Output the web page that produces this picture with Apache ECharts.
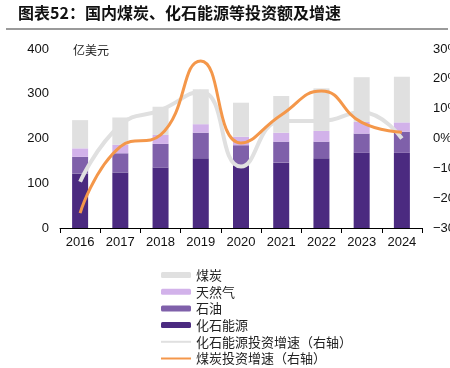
<!DOCTYPE html>
<html><head><meta charset="utf-8">
<script src="https://cdn.jsdelivr.net/npm/echarts@6/dist/echarts.min.js"></script>
<style>html,body{margin:0;padding:0;background:#fff}#c{width:450px;height:368px}</style>
</head><body><div id="c"></div>
<script>
var years = ['2016','2017','2018','2019','2020','2021','2022','2023','2024'];
var fossil = [122,124,135,156,140,146,156,168,168];
var oil = [37,43,53,57,45,47,37,43,47];
var gas = [19,19,20,19,19,20,24,26,21];
var coal = [63,61,63,78,76,82,95,100,102];
var fossilGrowth = [-14.5,4.5,9.5,15.7,-9.4,5.9,5.9,8.8,0];
var coalGrowth = [-25,-2.7,1.2,26,-1.5,7.9,15.9,5.4,2.1];
var leftTicks = [0,100,200,300,400];
var rightTicks = [-30,-20,-10,0,10,20,30];

var chart = echarts.init(document.getElementById('c'));
var font = '"Liberation Sans", Arial, sans-serif';
var cjk = '"Noto Sans CJK SC", sans-serif';
chart.setOption({
  animation:false,
  textStyle:{fontFamily:font},
  graphic:[
    {type:'text',x:18,y:5,style:{text:'图表52：国内煤炭、化石能源等投资额及增速',
      font:'bold 16px "Noto Sans CJK SC"',fill:'#111'}},
    {type:'rect',shape:{x:6,y:28,width:442,height:2},style:{fill:'#9a9a9a'}},
    {type:'text',x:73,y:44,style:{text:'亿美元',font:'12px "Noto Sans CJK SC"',fill:'#222'}}
  ],
  grid:{left:60,right:28,top:49,bottom:140,outerBoundsMode:'none',containLabel:false},
  legend:{orient:'vertical',left:155,top:263,height:110,itemWidth:30,itemHeight:6,itemGap:2.7,
    textStyle:{fontFamily:cjk,fontSize:13,color:'#222',lineHeight:14},
    data:['煤炭','天然气','石油','化石能源',
      {name:'化石能源投资增速（右轴）',itemStyle:{opacity:0}},
      {name:'煤炭投资增速（右轴）',itemStyle:{opacity:0}}]},
  xAxis:{type:'category',data:years,
    axisLine:{lineStyle:{color:'#000',width:1}},
    axisTick:{show:true,length:5,lineStyle:{color:'#000'}},
    axisLabel:{fontSize:13,color:'#111',margin:8}},
  yAxis:[
    {type:'value',min:0,max:400,interval:100,splitLine:{show:false},
     axisLine:{show:false},axisTick:{show:false},
     axisLabel:{fontSize:13,color:'#111',margin:11}},
    {type:'value',min:-30,max:30,interval:10,splitLine:{show:false},
     axisLine:{show:false},axisTick:{show:false},
     axisLabel:{fontSize:13,color:'#111',margin:11,
       formatter:function(v){return (v<0?'\u2212'+(-v):v)+'%';}}}
  ],
  series:[
    {name:'化石能源',type:'bar',stack:'a',data:fossil,barWidth:16,itemStyle:{color:'#4b2a80'}},
    {name:'石油',type:'bar',stack:'a',data:oil,itemStyle:{color:'#7f60aa'}},
    {name:'天然气',type:'bar',stack:'a',data:gas,itemStyle:{color:'#d2b2ea'}},
    {name:'煤炭',type:'bar',stack:'a',data:coal,itemStyle:{color:'#e0e0e0'}},
    {name:'化石能源投资增速（右轴）',type:'line',yAxisIndex:1,data:fossilGrowth,smooth:true,
     symbol:'none',lineStyle:{color:'#e0e0e0',width:4},itemStyle:{color:'#e0e0e0'},z:3},
    {name:'煤炭投资增速（右轴）',type:'line',yAxisIndex:1,data:coalGrowth,smooth:true,
     symbol:'none',lineStyle:{color:'#f4974a',width:3},itemStyle:{color:'#f4974a'},z:4}
  ]
});
</script></body></html>
